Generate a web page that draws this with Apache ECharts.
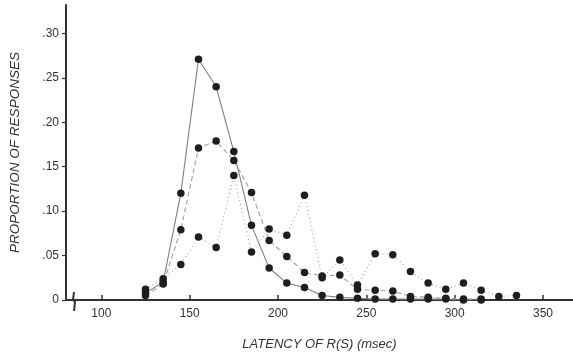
<!DOCTYPE html>
<html>
<head>
<meta charset="utf-8">
<script src="https://cdn.jsdelivr.net/npm/echarts@6/dist/echarts.min.js"></script>
<style>
  html, body { margin: 0; padding: 0; background: #fff; }
  #chart { width: 573px; height: 358px; }
</style>
</head>
<body>
<div id="chart"></div>
<script>
// latency bins (msec)
const latencies = [125, 135, 145, 155, 165, 175, 185, 195, 205, 215, 225, 235, 245, 255, 265, 275, 285, 295, 305, 315, 325, 335];

// sharp peak curve
const seriesA = [0.008, 0.02, 0.12, 0.271, 0.24, 0.167, 0.084, 0.036, 0.019, 0.014, 0.005, 0.003, 0.002, 0.001, 0.001, 0.001, 0.001, 0.001, 0.0, 0.0, null, null];
// middle curve
const seriesB = [0.005, 0.018, 0.079, 0.171, 0.179, 0.157, 0.121, 0.067, 0.049, 0.031, 0.027, 0.028, 0.012, 0.011, 0.01, 0.004, 0.003, 0.002, 0.001, 0.001, null, null];
// flat curve
const seriesC = [0.012, 0.024, 0.04, 0.071, 0.059, 0.14, 0.054, 0.08, 0.073, 0.118, 0.025, 0.045, 0.017, 0.052, 0.051, 0.032, 0.019, 0.012, 0.019, 0.011, 0.004, 0.005];

const xTicks = [100, 150, 200, 250, 300, 350];
const yTicks = [0, 0.05, 0.10, 0.15, 0.20, 0.25, 0.30];
const yTickLabels = ["0", ".05", ".10", ".15", ".20", ".25", ".30"];

function pairs(values) {
  return latencies.map((x, i) => [x, values[i]]).filter((p) => p[1] !== null);
}

function makeSeries(values, lineType, color) {
  return {
    type: "line",
    data: pairs(values),
    symbol: "circle",
    symbolSize: 7.5,
    itemStyle: { color: "#1e1e1e" },
    lineStyle: { color: color, width: 1.1, type: lineType },
    z: 3,
  };
}

const chart = echarts.init(document.getElementById("chart"));

const font = "Liberation Sans";

chart.setOption({
  animation: false,
  grid: { left: 65, right: 0, top: 5, bottom: 58 },
  xAxis: {
    type: "value",
    min: 80,
    max: 367,
    name: "LATENCY OF R(S) (msec)",
    nameLocation: "middle",
    nameGap: 38,
    nameTextStyle: { fontFamily: font, fontSize: 13, fontStyle: "italic", color: "#333" },
    axisLine: { show: true, lineStyle: { color: "#333", width: 2 } },
    axisTick: { show: true, inside: true, length: 5, customValues: xTicks, lineStyle: { color: "#333", width: 1.5 } },
    axisLabel: { customValues: xTicks, fontFamily: font, fontSize: 12, color: "#333", margin: 8 },
    splitLine: { show: false },
  },
  yAxis: {
    type: "value",
    min: 0,
    max: 0.332,
    name: "PROPORTION OF RESPONSES",
    nameLocation: "middle",
    nameGap: 44,
    nameTextStyle: { fontFamily: font, fontSize: 13.5, fontStyle: "italic", color: "#333" },
    axisLine: { show: true, lineStyle: { color: "#333", width: 2 } },
    axisTick: { show: true, length: 4, customValues: yTicks, lineStyle: { color: "#333", width: 1.2 } },
    axisLabel: {
      customValues: yTicks,
      fontFamily: font,
      fontSize: 12,
      color: "#333",
      margin: 7,
      formatter: (v) => yTickLabels[yTicks.findIndex((t) => Math.abs(t - v) < 1e-6)],
    },
    splitLine: { show: false },
  },
  graphic: [
    {
      type: "polyline",
      shape: { points: [[74, 292], [73, 300], [75, 302], [74, 311]] },
      style: { stroke: "#333", lineWidth: 2, fill: null },
      z: 101,
    },
  ],
  series: [
    makeSeries(seriesA, "solid", "#808080"),
    makeSeries(seriesB, [5, 3], "#a0a0a0"),
    makeSeries(seriesC, [1, 3], "#a0a0a0"),
  ],
});
</script>
</body>
</html>
